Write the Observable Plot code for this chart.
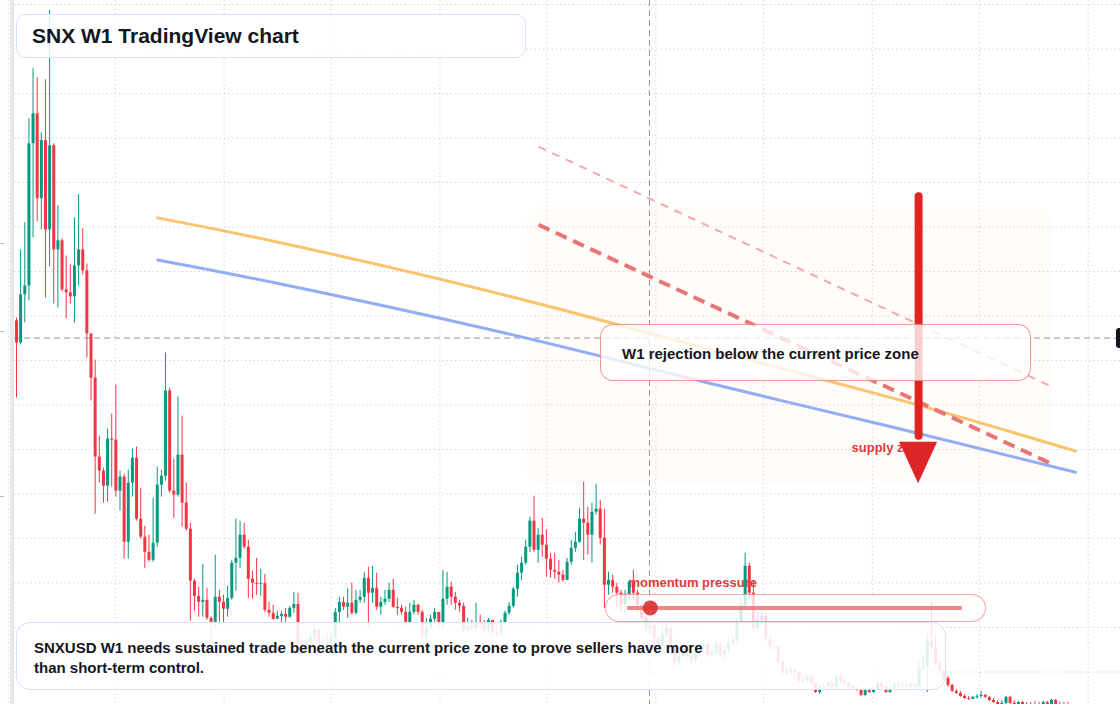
<!DOCTYPE html>
<html><head><meta charset="utf-8">
<script src="https://cdn.jsdelivr.net/npm/d3@7"></script>
<script src="https://cdn.jsdelivr.net/npm/@observablehq/plot@0.6"></script>
<style>
html,body{margin:0;padding:0;background:#fff;}
#wrap{position:relative;width:1120px;height:704px;overflow:hidden;font-family:"Liberation Sans",Arial,sans-serif;color:#131722;}
#wrap svg{position:absolute;left:0;top:0;}
.abs{position:absolute;box-sizing:border-box;}
.txt{position:absolute;white-space:nowrap;font-weight:700;}
</style></head>
<body><div id="wrap"></div>
<script>
// ---- data (prices) ----
const firstOpen = 17.78;
const closes = [
16.79,18.95,19.35,25.74,27.09,23.27,25.88,21.87,25.65,20.97,
21.38,19.17,19.04,18.86,20.25,20.97,20.03,17.19,15.21,11.66,
11.03,10.35,12.47,12.42,10.13,10.76,7.83,10.49,11.61,8.87,
8.06,7.38,7.02,7.79,10.40,10.80,14.63,10.13,9.95,11.75,
9.59,8.42,6.08,5.40,5.13,5.22,4.41,4.23,5.36,5.13,
4.82,5.31,6.89,7.11,8.15,7.61,6.17,5.99,5.94,5.97,
4.77,4.64,4.37,4.50,4.59,4.46,4.86,5.04,3.29,3.20,
3.33,3.56,3.87,3.29,3.33,3.29,3.51,4.68,5.13,4.91,
5.09,4.64,5.22,5.36,6.21,5.54,5.76,4.91,5.13,5.27,
5.67,4.91,4.86,4.68,4.23,4.68,5.00,4.68,3.69,4.01,
4.37,4.68,4.10,5.27,5.81,5.36,5.09,4.95,3.87,4.05,
3.96,4.23,4.14,3.87,4.32,3.78,3.74,4.23,4.64,4.95,
5.72,6.44,6.89,7.61,8.78,7.47,8.15,7.70,7.07,6.57,
6.48,6.35,6.12,6.93,7.56,7.83,8.87,8.69,8.15,9.18,
9.32,8.01,5.90,6.12,5.81,5.54,5.04,5.49,6.03,5.54,
5.00,4.41,3.96,4.05,3.51,3.15,3.69,3.96,3.20,2.43,
2.70,3.06,2.70,2.52,2.84,3.11,3.24,2.75,2.88,3.20,
2.75,2.97,3.29,3.42,4.23,5.00,6.75,5.54,3.96,4.32,
4.50,3.51,3.15,3.11,2.43,1.94,1.98,2.03,1.98,1.58,
1.62,1.76,1.49,1.08,1.31,1.35,1.49,1.31,1.76,1.58,
1.49,1.31,1.26,1.22,0.95,1.17,1.08,1.22,1.49,1.31,
1.08,1.26,1.44,1.40,1.38,1.35,1.44,1.35,2.16,2.25,
3.38,3.11,2.39,2.07,1.71,1.40,1.13,1.04,0.90,0.81,
0.77,0.86,0.90,0.95,0.86,0.72,0.63,0.54,0.59,0.86,
0.59,0.54,0.63,0.54,0.50,0.54,0.50,0.49,0.63,0.50,
0.72,0.54,0.50,0.48,0.47];
const highs = [
17.91,20.97,22.19,26.87,29.12,28.71,26.24,28.62,31.73,25.74,
22.95,21.47,20.70,20.30,22.41,23.45,21.92,20.34,17.19,16.02,
12.60,11.16,12.92,13.59,14.90,11.03,10.89,11.07,12.02,12.11,
10.26,8.55,8.15,9.81,11.21,11.07,16.34,14.76,11.57,14.36,
13.50,10.49,8.69,6.17,5.81,6.84,5.76,4.50,7.25,5.67,
5.45,5.85,7.02,8.87,8.78,8.69,7.92,6.53,7.11,6.62,
6.39,5.13,5.00,4.73,4.73,4.86,4.95,5.58,5.54,3.74,
3.51,3.78,4.01,3.96,3.60,3.74,3.87,4.86,5.36,5.36,
5.76,5.99,5.67,5.67,6.48,6.71,6.75,6.44,5.36,5.67,
5.99,6.17,5.31,5.00,4.91,5.09,5.22,5.04,4.77,4.41,
4.55,4.86,4.68,6.57,6.48,6.03,5.58,5.22,5.09,4.41,
4.32,5.09,4.55,4.32,4.41,4.32,4.10,4.32,4.73,5.13,
5.81,6.80,7.16,7.92,8.96,9.90,8.46,8.91,8.37,7.34,
7.34,7.02,6.57,7.11,7.92,8.28,9.36,10.53,9.41,9.59,
10.44,9.72,9.32,6.48,6.35,5.99,5.67,5.67,6.12,6.57,
5.67,5.09,4.55,4.32,4.14,3.60,4.05,4.14,3.96,3.20,
2.88,3.20,3.15,2.88,2.97,3.29,3.42,3.29,3.06,3.38,
3.29,3.15,3.47,3.60,4.41,5.31,7.34,6.89,6.12,4.68,
4.77,4.68,3.60,3.42,3.15,2.52,2.16,2.16,2.12,1.98,
1.80,1.85,1.80,1.53,1.40,1.44,1.58,1.49,1.85,1.89,
1.67,1.58,1.40,1.35,1.26,1.22,1.22,1.31,1.53,1.53,
1.35,1.35,1.53,1.58,1.58,1.49,1.49,1.49,2.52,2.79,
3.69,5.13,3.65,2.43,2.07,1.80,1.44,1.22,1.13,0.99,
0.90,0.90,0.99,1.13,0.99,0.90,0.81,0.72,0.72,0.90,
0.90,0.72,0.68,0.68,0.63,0.63,0.68,0.63,0.68,0.68,
0.77,0.77,0.63,0.63,0.63];
const lows = [
14.31,16.70,17.69,18.68,21.51,22.23,21.87,18.81,20.21,18.54,
18.36,19.08,17.87,18.54,17.69,19.35,19.85,16.11,14.18,9.09,
10.49,9.59,9.63,10.31,9.86,9.23,7.07,7.07,9.86,8.78,
7.97,6.66,6.93,6.93,7.61,9.86,10.58,10.04,8.91,9.86,
8.51,8.33,4.28,4.73,4.46,4.46,4.32,3.29,3.96,4.23,
4.23,4.46,5.22,5.63,6.66,7.52,5.31,5.27,5.45,5.40,
4.68,4.46,4.32,4.37,4.23,4.23,4.41,4.64,3.20,2.97,
2.97,3.20,3.42,3.20,3.06,3.15,3.20,3.33,4.10,4.77,
4.41,4.55,4.55,5.09,5.09,4.01,5.09,4.77,4.55,5.00,
5.13,4.86,4.55,4.55,4.01,4.14,4.55,4.55,3.42,3.42,
3.87,4.23,3.96,4.01,5.00,5.00,4.77,4.68,3.78,3.78,
3.78,3.87,3.96,3.74,3.78,3.65,3.60,3.60,4.14,4.55,
4.86,5.36,6.12,6.80,7.38,7.38,6.89,7.16,6.26,6.21,
6.17,5.99,6.03,6.12,6.80,7.38,7.79,7.02,7.25,6.89,
9.05,7.70,4.86,5.45,5.54,4.91,4.68,4.68,5.22,5.22,
4.68,4.23,3.78,3.69,3.15,2.97,3.06,3.56,3.06,2.21,
2.30,2.61,2.52,2.34,2.43,2.70,2.97,2.61,2.66,2.75,
2.66,2.57,2.84,3.20,3.20,4.14,4.91,5.31,3.78,3.87,
4.10,3.42,2.97,2.88,2.30,1.80,1.85,1.89,1.62,1.49,
1.49,1.53,1.40,1.04,0.99,1.17,1.22,1.22,1.26,1.49,
1.40,1.22,1.17,1.13,0.90,0.90,1.04,1.04,1.17,1.22,
1.04,1.04,1.22,1.26,1.26,1.26,1.26,1.26,1.17,2.07,
1.08,2.97,2.30,1.94,1.62,1.31,1.08,0.99,0.86,0.77,
0.72,0.77,0.77,0.81,0.81,0.68,0.59,0.50,0.45,0.54,
0.54,0.50,0.50,0.50,0.45,0.45,0.45,0.45,0.45,0.45,
0.45,0.45,0.45,0.44,0.43];

// moving-average style curves (bar index, price)
const maIdx   = [34.1, 63.8, 116.9, 165.2, 213.5, 255.8];
const maSlow  = [22.41, 21.29, 18.99, 16.61, 14.22, 11.93];  // orange
const maFast  = [20.52, 19.44, 17.28, 15.08, 12.92, 10.98];  // blue

// annotations (bar index, price)
const trendIdx   = [126.1, 250.2];
const trendMain  = [22.10, 11.34];
const trendUpper = [25.61, 14.81];
const zoneIdx    = [123.4, 250.2];
const zonePrice  = [10.40, 22.91];
const arrowIdx   = 217.9;
const arrowPrice = [23.36, 12.6, 12.33, 10.46]; // shaft top, shaft end, head base, tip
const arrowHalfW = 4.6;                           // head half width in bars
const crossIdx   = 152.9;
const crossPrice = 17.01;
const momIdx     = [147.6, 228.5];
const momDotIdx  = 153.1;
const momPrice   = 4.88;
const momLabel   = {idx: 147.8, price: 5.99, text: "momentum pressure"};
const zoneLabel  = {idx: 201.7, price: 12.08, text: "supply zone"};

// ---- build ----
const start = Date.UTC(2021, 0, 15);
const WEEK = 7 * 864e5;
const at = i => new Date(start + i * WEEK);
const candles = closes.map((c, i) => ({
  date: at(i), open: i ? closes[i - 1] : firstOpen, close: c, high: highs[i], low: lows[i]
}));
const up = candles.filter(d => d.close >= d.open);
const dn = candles.filter(d => d.close < d.open);
const GREEN = "#089981", RED = "#f23645";

const xGrid = d3.utcMonth.every(6).range(at(-2), at(270));
const yGrid = d3.range(2, 33, 2);

const common = {
  width: 1120, height: 704,
  marginLeft: 14, marginRight: 0, marginTop: 0, marginBottom: 0,
  x: {type: "utc", domain: [at(0), at(254)], range: [16, 16 + 254 * 4.14], axis: null},
  y: {domain: [0, 32], range: [716, 4], axis: null}
};

const maSlowPts = maIdx.map((i, k) => ({x: at(i), y: maSlow[k]}));
const maFastPts = maIdx.map((i, k) => ({x: at(i), y: maFast[k]}));
const headPts = [
  {x: at(arrowIdx - arrowHalfW), y1: arrowPrice[2], y2: arrowPrice[2]},
  {x: at(arrowIdx), y1: arrowPrice[2], y2: arrowPrice[3]},
  {x: at(arrowIdx + arrowHalfW), y1: arrowPrice[2], y2: arrowPrice[2]}
];
const font = "'Liberation Sans', Arial, sans-serif";

const base = Plot.plot({
  ...common,
  style: {fontFamily: font, background: "#fff"},
  marks: [
    Plot.rect([{x1: at(zoneIdx[0]), x2: at(zoneIdx[1]), y1: zonePrice[0], y2: zonePrice[1]}],
      {x1: "x1", x2: "x2", y1: "y1", y2: "y2", fill: "#fcebdc", fillOpacity: 0.16, rx: 16}),
    Plot.ruleY(yGrid, {stroke: "#c9cdd4", strokeDasharray: "1.2,3"}),
    Plot.ruleX(xGrid, {stroke: "#c9cdd4", strokeDasharray: "1.2,3"}),
    Plot.ruleX([at(crossIdx)], {stroke: "#9598a1", strokeDasharray: "6,4"}),
    Plot.ruleY([crossPrice], {stroke: "#9598a1", strokeDasharray: "6,4"}),
    Plot.text([momLabel], {x: d => at(d.idx), y: "price", text: "text", textAnchor: "start",
      fill: "#e03a3a", fontSize: 13, fontWeight: "bold"}),
    Plot.ruleX(up, {x: "date", y1: "low", y2: "high", stroke: GREEN, strokeWidth: 1}),
    Plot.ruleX(dn, {x: "date", y1: "low", y2: "high", stroke: RED, strokeWidth: 1}),
    Plot.ruleX(up, {x: "date", y1: "open", y2: "close", stroke: GREEN, strokeWidth: 3}),
    Plot.ruleX(dn, {x: "date", y1: "open", y2: "close", stroke: RED, strokeWidth: 3}),
    Plot.line(maSlowPts, {x: "x", y: "y", stroke: "#f9c46e", strokeWidth: 3, curve: "natural"}),
    Plot.line(maFastPts, {x: "x", y: "y", stroke: "#93adf4", strokeWidth: 3, curve: "natural"}),
    Plot.link([{x1: at(trendIdx[0]), x2: at(trendIdx[1]), y1: trendUpper[0], y2: trendUpper[1]}],
      {x1: "x1", x2: "x2", y1: "y1", y2: "y2", stroke: "#f2a9a9", strokeWidth: 2, strokeDasharray: "8,7"}),
    Plot.link([{x1: at(trendIdx[0]), x2: at(trendIdx[1]), y1: trendMain[0], y2: trendMain[1]}],
      {x1: "x1", x2: "x2", y1: "y1", y2: "y2", stroke: "#e97676", strokeWidth: 4, strokeDasharray: "12,7"}),
    Plot.text([zoneLabel], {x: d => at(d.idx), y: "price", text: "text", textAnchor: "start",
      fill: "#e03a3a", fontSize: 13, fontWeight: "bold"}),
    Plot.ruleX([{x: at(arrowIdx), y1: arrowPrice[0], y2: arrowPrice[1]}],
      {x: "x", y1: "y1", y2: "y2", stroke: "#dc2626", strokeWidth: 8, strokeLinecap: "round"}),
    Plot.areaY(headPts, {x: "x", y1: "y1", y2: "y2", fill: "#dc2626", curve: "linear"})
  ]
});

const overlay = Plot.plot({
  ...common,
  style: {fontFamily: font, background: "transparent"},
  marks: [
    Plot.ruleY([{y: momPrice, x1: at(momIdx[0]), x2: at(momIdx[1])}],
      {y: "y", x1: "x1", x2: "x2", stroke: "#e35a5a", strokeOpacity: 0.72, strokeWidth: 4}),
    Plot.dot([{x: at(momDotIdx), y: momPrice}], {x: "x", y: "y", r: 7.5, fill: "#dc2f2f", fillOpacity: 0.9})
  ]
});

const wrap = document.getElementById("wrap");
wrap.appendChild(base);
function el(cls, css, html) {
  const d = document.createElement("div");
  d.className = cls; d.style.cssText = css; if (html) d.innerHTML = html;
  wrap.appendChild(d); return d;
}
// left edge strip and stray ticks
el("abs", "left:10px;top:0;width:4px;height:704px;background:#e9e9ec;");
[243, 331, 496].forEach(t => el("abs", `left:0;top:${t}px;width:4px;height:1px;background:#b8bbc1;`));
// W1 rejection box
el("abs", "left:600px;top:324px;width:431px;height:57px;border:1.2px solid rgba(226,70,70,0.55);border-radius:13px;background:rgba(255,255,255,0.78);");
el("txt", "left:622px;top:344px;font-size:15px;line-height:20px;", "W1 rejection below the current price zone");
// title
el("abs", "left:16px;top:14px;width:510px;height:44px;border:1.5px solid #d5e1f5;border-radius:10px;background:rgba(255,255,255,0.86);");
el("txt", "left:32px;top:24px;font-size:21px;line-height:24px;", "SNX W1 TradingView chart");
// momentum pill
el("abs", "left:605px;top:594px;width:381px;height:28px;border:1.5px solid rgba(226,80,80,0.5);border-radius:14px;background:rgba(255,255,255,0.8);");
// bottom note
el("abs", "left:16px;top:622px;width:930px;height:68px;border:1.5px solid #d5e1f5;border-radius:14px;background:rgba(255,255,255,0.87);");
el("txt", "left:34px;top:638px;font-size:15px;line-height:20px;",
  "SNXUSD W1 needs sustained trade beneath the current price zone to prove sellers have more<br>than short-term control.");
wrap.appendChild(overlay);
// right price label stub
el("abs", "left:1116px;top:328px;width:12px;height:20px;background:#131722;border-radius:3px;");
</script>
</body></html>
